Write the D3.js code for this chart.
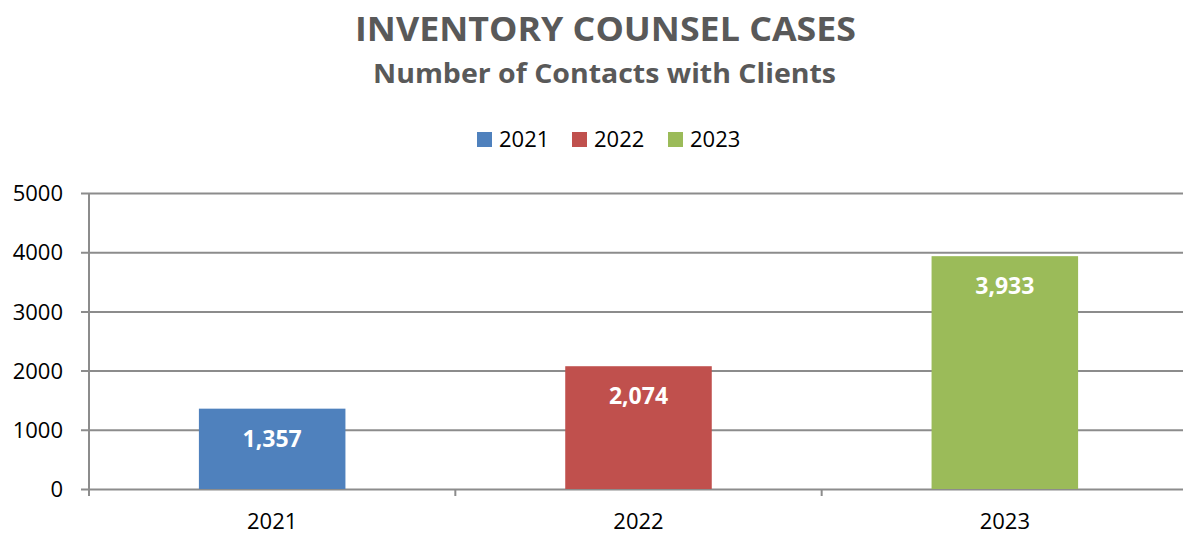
<!DOCTYPE html>
<html>
<head>
<meta charset="utf-8">
<script src="https://cdn.jsdelivr.net/npm/d3@7"></script>
<style>
	body { margin: 0; background: #fff; }
	text { font-family: "Open Sans", "Liberation Sans", sans-serif; }
</style>
</head>
<body>
<svg id="chart" width="1183" height="536"></svg>
<script>
var years = ["2021", "2022", "2023"];
var contacts = [1357, 2074, 3933];
var colors = ["#4f81bd", "#c0504d", "#9bbb59"];
var yTicks = [0, 1000, 2000, 3000, 4000, 5000];

var svg = d3.select("#chart");
var margin = { left: 89, right: -5, top: 193, bottom: 47 };
var width = 1183 - margin.left - margin.right,
	height = 536 - margin.top - margin.bottom;

// titles
svg.append("text")
	.attr("x", 605.5).attr("y", 41)
	.attr("text-anchor", "middle")
	.attr("font-size", 34).attr("font-weight", "bold")
	.attr("fill", "#595959")
	.attr("textLength", 501).attr("lengthAdjust", "spacingAndGlyphs")
	.text("INVENTORY COUNSEL CASES");

svg.append("text")
	.attr("x", 604.5).attr("y", 83)
	.attr("text-anchor", "middle")
	.attr("font-size", 26).attr("font-weight", "bold")
	.attr("fill", "#595959")
	.attr("textLength", 463).attr("lengthAdjust", "spacingAndGlyphs")
	.text("Number of Contacts with Clients");

var g = svg.append("g")
	.attr("transform", "translate(" + margin.left + "," + margin.top + ")");

var x = d3.scaleBand().domain(years).range([0, width]).paddingInner(0.6).paddingOuter(0.3);
var xTickScale = d3.scaleBand().domain(years).range([0, width]);
var y = d3.scaleLinear().domain([0, 5000]).range([height, 0]);

// gridlines + y axis
var yAxis = g.append("g")
	.call(d3.axisLeft(y).tickValues(yTicks).tickSize(-width - 8).tickFormat(d3.format("d")))
	.attr("transform", "translate(-8,0)");
yAxis.select(".domain").remove();
yAxis.selectAll(".tick line")
	.attr("stroke", "#8c8c8c").attr("stroke-width", 2);
yAxis.selectAll(".tick text")
	.attr("font-size", 22).attr("fill", "#000")
	.attr("dy", "0.35em")
	.attr("x", -18);

g.append("line")
	.attr("x1", 0).attr("x2", 0)
	.attr("y1", 0).attr("y2", height + 7)
	.attr("stroke", "#8c8c8c").attr("stroke-width", 2);

// category ticks
g.selectAll(".cat-tick")
	.data(years.slice(1))
	.enter().append("line")
	.attr("class", "cat-tick")
	.attr("x1", function(d) { return xTickScale(d); })
	.attr("x2", function(d) { return xTickScale(d); })
	.attr("y1", height).attr("y2", height + 7)
	.attr("stroke", "#8c8c8c").attr("stroke-width", 2);

g.selectAll(".cat-label")
	.data(years)
	.enter().append("text")
	.attr("class", "cat-label")
	.attr("x", function(d) { return xTickScale(d) + xTickScale.bandwidth() / 2; })
	.attr("y", height + 40)
	.attr("text-anchor", "middle")
	.attr("font-size", 22).attr("fill", "#000")
	.text(function(d) { return d; });

// bars
g.selectAll(".bar")
	.data(years)
	.enter().append("rect")
	.attr("class", "bar")
	.attr("x", function(d) { return x(d); })
	.attr("width", x.bandwidth())
	.attr("y", function(d, i) { return y(contacts[i]); })
	.attr("height", function(d, i) { return height - y(contacts[i]); })
	.attr("fill", function(d, i) { return colors[i]; });

g.selectAll(".bar-label")
	.data(years)
	.enter().append("text")
	.attr("class", "bar-label")
	.attr("x", function(d) { return x(d) + x.bandwidth() / 2; })
	.attr("y", function(d, i) { return y(contacts[i]) + 38; })
	.attr("text-anchor", "middle")
	.attr("font-size", 23).attr("font-weight", "bold")
	.attr("fill", "#fff")
	.text(function(d, i) { return d3.format(",")(contacts[i]); });

// legend
var legendX = [477, 572, 668];
var legend = svg.selectAll(".legend")
	.data(years)
	.enter().append("g")
	.attr("class", "legend")
	.attr("transform", function(d, i) { return "translate(" + legendX[i] + ",132)"; });
legend.append("rect")
	.attr("width", 15).attr("height", 15)
	.attr("fill", function(d, i) { return colors[i]; });
legend.append("text")
	.attr("x", 22).attr("y", 15)
	.attr("font-size", 22).attr("fill", "#000")
	.text(function(d) { return d; });
</script>
</body>
</html>
